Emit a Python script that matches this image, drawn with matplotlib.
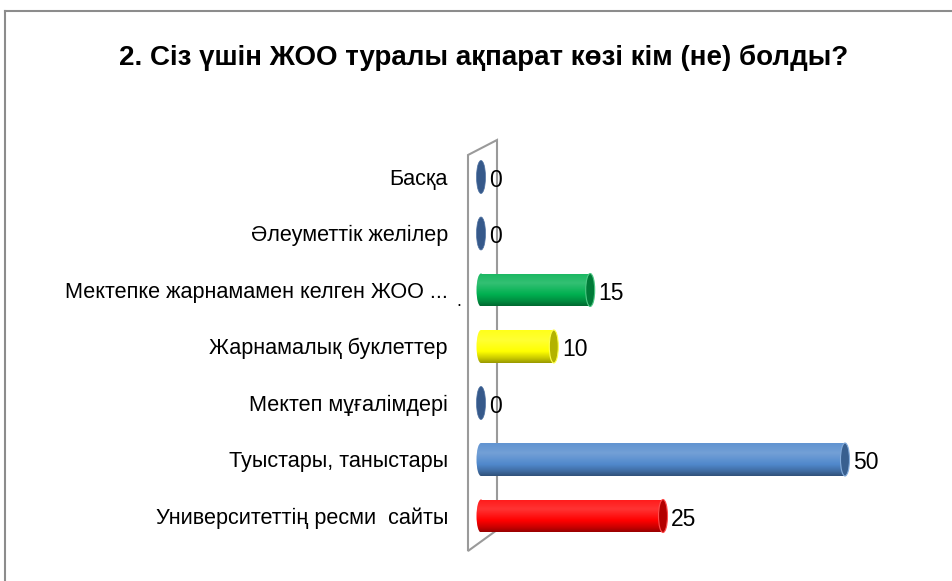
import numpy as np
import matplotlib
matplotlib.use('Agg')
import matplotlib.pyplot as plt
from matplotlib.colors import LinearSegmentedColormap, to_rgb
from matplotlib.patches import Rectangle, Ellipse, Polygon
from matplotlib.lines import Line2D

title = '2. Сіз үшін ЖОО туралы ақпарат көзі кім (не) болды?'
categories = ['Басқа', 'Әлеуметтік желілер', 'Мектепке жарнамамен келген ЖОО ...',
              'Жарнамалық буклеттер', 'Мектеп мұғалімдері', 'Туыстары, таныстары',
              'Университеттің ресми  сайты']
values = [0, 0, 15, 10, 0, 50, 25]
colors = ['#4f81bd', '#4f81bd', '#00b050', '#ffff00', '#4f81bd', '#5088cc', '#ff0000']

plt.rcParams['font.family'] = ['Liberation Sans', 'DejaVu Sans']


def shade(c, f):
    r = np.array(to_rgb(c))
    if f >= 0:
        return tuple(r + (1 - r) * f)
    return tuple(r * (1 + f))


W, H = 953, 581
fig = plt.figure(figsize=(W / 100, H / 100), dpi=100)

# outer frame (only left / top visible)
fig.add_artist(Line2D([4.5 / W, 4.5 / W], [0, 1 - 10.5 / H], color='#8c8c8c', lw=1.5))
fig.add_artist(Line2D([4.5 / W, 1], [1 - 10.5 / H, 1 - 10.5 / H], color='#8c8c8c', lw=1.5))

fig.text(484 / W, 1 - 58 / H, title, ha='center', va='center',
         fontsize=20, fontweight='bold')

# plot area in pixels
L, R, T, B = 440, 945, 125, 565
px_unit = 7.28
x0_px, y0_px, step = 481, 177, 56.5
ax = fig.add_axes([L / W, 1 - B / H, (R - L) / W, (B - T) / H])
ax.axis('off')

# back wall
fx, bx = (468 - x0_px) / px_unit, (497 - x0_px) / px_unit
wall = [(fx, (155 - y0_px) / step), (bx, (140 - y0_px) / step),
        (bx, (530 - y0_px) / step), (fx, (551 - y0_px) / step)]
ax.add_patch(Polygon(wall, closed=True, facecolor='white', edgecolor='#9a9a9a',
                     lw=1.5, zorder=1))

bh = 33 / step
cap_w = 9 / px_unit
grad = np.linspace(0, 1, 100).reshape(-1, 1)

for i, (cat, v, c) in enumerate(zip(categories, values, colors)):
    y = i
    cap_col = shade(c, -0.3)
    if v > 0:
        cmap = LinearSegmentedColormap.from_list(
            'cyl', [(0, shade(c, 0.1)), (0.3, shade(c, 0.2)), (0.65, c),
                    (0.85, shade(c, -0.2)), (1, shade(c, -0.4))])
        for clip in (Rectangle((0, y - bh / 2), v, bh, transform=ax.transData),
                     Ellipse((0, y), cap_w, bh, transform=ax.transData)):
            im = ax.imshow(grad, cmap=cmap, aspect='auto', zorder=3,
                           extent=(-cap_w / 2, v, y + bh / 2, y - bh / 2))
            im.set_clip_path(clip)
        ax.add_patch(Ellipse((v, y), cap_w, bh, facecolor=cap_col,
                             edgecolor=shade(c, 0.3), lw=0.8, zorder=4))
    else:
        ax.add_patch(Ellipse((0, y), cap_w, bh, facecolor='#36598a',
                             edgecolor='#4f72a2', lw=0.5, zorder=4))
    ax.text(v + 1.1, y + 0.06, str(v), ha='left', va='center', fontsize=16.5, zorder=5)
    ax.text((448 - x0_px) / px_unit, y + 0.04, cat, ha='right', va='center',
            fontsize=15.6, clip_on=False)

ax.text((459 - x0_px) / px_unit, 2.2, '.', ha='center', va='center', fontsize=13)

ax.set_xlim((L - x0_px) / px_unit, (R - x0_px) / px_unit)
ax.set_ylim((B - y0_px) / step, (T - y0_px) / step)

fig.savefig('out.png', dpi=100)
